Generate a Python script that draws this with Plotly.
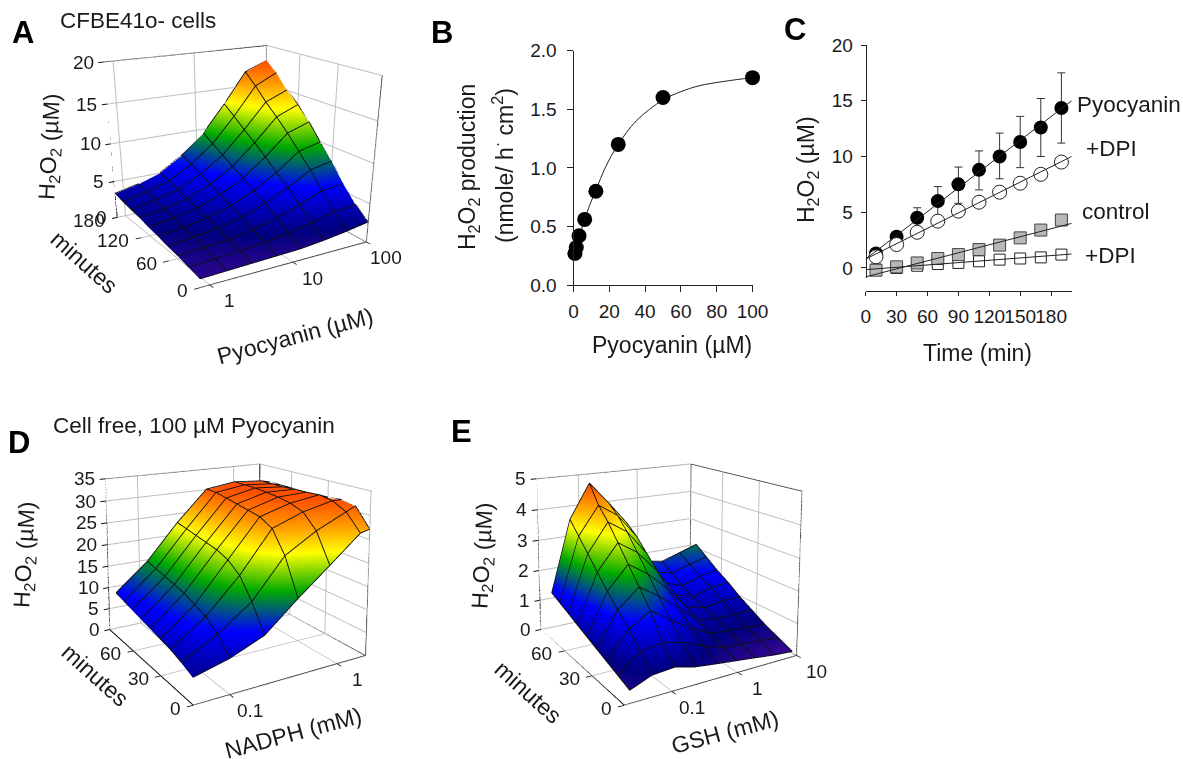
import math
import plotly.graph_objects as go

W, H = 1183, 759
FONT = "Liberation Sans, Arial, sans-serif"
INK = "#1a1a1a"

# ---------- Panel A ----------
a_pyo = [0.78, 1.56, 3.1, 6.25, 12.5, 25, 50, 100]
a_min = [0, 20, 40, 60, 80, 100, 120, 140, 160, 180]
a_z = [
    [1.0, 1.1, 1.2, 1.3, 1.4, 1.7, 2.1, 2.6],
    [1.3, 1.5, 1.7, 2.0, 2.4, 3.0, 3.7, 4.0],
    [1.6, 1.9, 2.1, 2.6, 3.4, 4.4, 5.6, 5.9],
    [1.8, 2.2, 2.6, 3.3, 4.4, 5.8, 7.5, 8.1],
    [2.1, 2.5, 3.0, 3.9, 5.2, 7.0, 9.2, 9.9],
    [2.3, 2.8, 3.4, 4.5, 6.1, 8.3, 10.9, 11.9],
    [2.6, 3.1, 3.8, 5.1, 6.9, 9.5, 12.4, 13.6],
    [2.8, 3.4, 4.2, 5.7, 7.7, 10.6, 13.8, 15.0],
    [3.0, 3.7, 4.6, 6.3, 8.6, 11.8, 15.4, 16.8],
    [3.3, 4.0, 5.0, 6.9, 9.4, 12.9, 16.8, 18.1],
]
# ---------- Panel D ----------
d_nadph = [0.05, 0.1, 0.2, 0.4, 0.8, 1.6, 2.0]
d_min = [0, 10, 20, 30, 40, 50, 60, 70, 80]
d_z = [
    [5.2, 7.0, 9.8, 15.6, 21.0, 26.5, 27.0],
    [6.2, 10.0, 15.0, 23.0, 27.0, 30.0, 31.0],
    [7.0, 12.0, 19.0, 27.5, 30.0, 31.5, 31.5],
    [7.5, 13.0, 21.0, 29.0, 31.0, 32.0, 31.2],
    [8.0, 14.0, 22.0, 29.5, 31.5, 31.8, 31.0],
    [8.5, 14.5, 22.5, 30.0, 31.8, 31.7, 31.0],
    [9.0, 15.0, 23.0, 30.5, 32.0, 31.5, 31.0],
    [9.5, 15.5, 23.5, 31.0, 32.0, 31.5, 31.0],
    [10.0, 16.0, 24.0, 31.0, 32.0, 31.5, 31.0],
]
# ---------- Panel E ----------
e_gsh = [0.026, 0.053, 0.11, 0.22, 0.46, 0.94, 1.9, 4.0, 8.3]
e_min = [0, 10, 20, 30, 40, 50, 60, 70, 80]
e_z = [
    [0.35, 0.60, 0.65, 0.50, 0.42, 0.35, 0.28, 0.20, 0.15],
    [0.48, 1.00, 1.10, 0.95, 0.70, 0.50, 0.45, 0.40, 0.35],
    [0.61, 1.40, 1.80, 1.40, 1.00, 0.70, 0.65, 0.60, 0.55],
    [0.74, 1.75, 2.30, 1.90, 1.40, 0.90, 0.80, 0.80, 0.80],
    [0.87, 2.10, 2.80, 2.40, 1.80, 1.10, 0.95, 1.05, 1.05],
    [1.00, 2.50, 3.30, 2.90, 2.20, 1.30, 1.10, 1.30, 1.35],
    [1.14, 2.90, 3.80, 3.40, 2.60, 1.50, 1.30, 1.50, 1.60],
    [1.27, 3.30, 4.20, 3.80, 3.00, 1.70, 1.55, 1.75, 1.90],
    [1.40, 3.70, 4.80, 4.10, 3.30, 1.90, 1.80, 2.00, 2.20],
]
# ---------- Panel B ----------
b_pyo = [0.78, 1.56, 3.1, 6.25, 12.5, 25, 50, 100]
b_rate = [0.27, 0.32, 0.42, 0.56, 0.80, 1.20, 1.60, 1.77]
b_fit_x = [0, 1.5, 3, 6, 9, 12.5, 18, 25, 35, 50, 60, 70, 85, 100]
b_fit_y = [0.25, 0.31, 0.40, 0.55, 0.68, 0.81, 1.01, 1.20, 1.40, 1.58, 1.65, 1.70, 1.74, 1.77]
# ---------- Panel C ----------
c_t = [10, 30, 50, 70, 90, 110, 130, 150, 170, 190]
c_pyo = [1.3, 2.8, 4.5, 6.0, 7.5, 8.8, 10.0, 11.3, 12.6, 14.35]
c_err_up = [0.1, 0.2, 0.9, 1.3, 1.55, 1.7, 2.1, 2.3, 2.6, 3.15]
c_err_dn = [0.1, 0.2, 0.9, 1.3, 1.7, 1.8, 2.0, 2.3, 2.6, 3.15]
c_pyo_dpi = [1.0, 2.1, 3.2, 4.2, 5.1, 5.9, 6.8, 7.6, 8.4, 9.5]
c_ctrl = [-0.2, 0.1, 0.45, 0.85, 1.2, 1.65, 2.05, 2.7, 3.4, 4.3]
c_ctrl_dpi = [-0.15, 0.0, 0.2, 0.35, 0.45, 0.6, 0.75, 0.85, 0.95, 1.2]
c_line_t = [0, 200]
c_line_pyo = [0.8, 15.0]
c_line_pyo_dpi = [0.8, 10.0]
c_line_ctrl = [-0.8, 4.0]
c_line_ctrl_dpi = [-0.15, 1.25]

COLORS = [
    [0.00, "#4a0a96"], [0.13, "#00007f"], [0.33, "#0000ff"], [0.43, "#005a78"],
    [0.53, "#00aa00"], [0.63, "#80d400"], [0.73, "#ffff00"], [0.87, "#ff9a00"],
    [1.00, "#ff4a00"],
]


def px(x, y):
    return x / W, 1 - y / H


fig = go.Figure()
ann = []


def label(x, y, text, size=22, angle=0, xanchor="center", bold=False):
    fx, fy = px(x, y)
    ann.append(dict(x=fx, y=fy, xref="paper", yref="paper", text=f"<b>{text}</b>" if bold else text,
                    showarrow=False, textangle=angle, xanchor=xanchor, yanchor="middle",
                    font=dict(family=FONT, size=size, color=INK if not bold else "black")))


def surface_panel(name, xs, ys, zs, xr, yr, zr, xmajor, ymajor, zmajor, box, eye, aspect, look):
    sc = dict(scene=name)
    zmax = max(max(r) for r in zs)
    fig.add_trace(go.Surface(x=xs, y=ys, z=zs, cmin=0, cmax=zmax, colorscale=COLORS, showscale=False,
                             hoverinfo="skip",
                             lighting=dict(ambient=1, diffuse=0, specular=0, roughness=1, fresnel=0), **sc))
    lift = (zr[1] - zr[0]) * 0.004
    lx, ly, lz = [], [], []
    for j, y in enumerate(ys):
        lx += xs + [None]
        ly += [y] * len(xs) + [None]
        lz += [v + lift for v in zs[j]] + [None]
    for i, x in enumerate(xs):
        lx += [x] * len(ys) + [None]
        ly += ys + [None]
        lz += [zs[j][i] + lift for j in range(len(ys))] + [None]
    fig.add_trace(go.Scatter3d(x=lx, y=ly, z=lz, mode="lines", line=dict(color="#101010", width=1.8),
                               hoverinfo="skip", showlegend=False, **sc))
    x0, x1 = 10 ** xr[0], 10 ** xr[1]
    y0, y1 = yr
    z0, z1 = zr
    corners = [[x0, y0, z0], [x1, y0, z0], None, [x0, y0, z0], [x0, y1, z0], None,
               [x0, y1, z0], [x0, y1, z1], [x1, y1, z1], [x1, y0, z1], [x1, y0, z0], None,
               [x1, y1, z0], [x1, y1, z1], None, [x0, y1, z0], [x1, y1, z0], [x1, y0, z0]]
    bx = [c[0] if c else None for c in corners]
    by = [c[1] if c else None for c in corners]
    bz = [c[2] if c else None for c in corners]
    fig.add_trace(go.Scatter3d(x=bx, y=by, z=bz, mode="lines", line=dict(color="#111111", width=2),
                               hoverinfo="skip", showlegend=False, **sc))
    mx, my, mz = [], [], []
    tl = (y1 - y0) * 0.022
    lo, hi = math.floor(xr[0]), math.ceil(xr[1])
    for d in range(lo, hi):
        for m in range(2, 11):
            v = m * 10.0 ** d
            if x0 <= v <= x1 * 1.001:
                mx += [v, v, None]
                my += [y0, y0 - tl, None]
                mz += [z0, z0, None]
    fig.add_trace(go.Scatter3d(x=mx, y=my, z=mz, mode="lines", line=dict(color="#111111", width=1.4),
                               hoverinfo="skip", showlegend=False, **sc))
    common = dict(showbackground=False, showspikes=False, zeroline=False, showline=False, showgrid=True,
                  gridcolor="#bdbdbd", gridwidth=2, title=dict(text=""), ticks="outside", ticklen=5,
                  tickcolor="#111111", tickwidth=2, showticklabels=False)
    tf = dict(family=FONT, size=19, color=INK)
    notes = []
    for v in xmajor:
        notes.append(dict(x=math.log10(v), y=y0, z=z0, text=str(v), showarrow=False, font=tf,
                          xanchor="center", xshift=20, yshift=-16))
    for v in ymajor:
        notes.append(dict(x=xr[0], y=v, z=z0, text=str(v), showarrow=False, font=tf,
                          xanchor="right", xshift=-10, yshift=-3))
    for v in zmajor:
        notes.append(dict(x=xr[0], y=y1, z=v, text=str(v), showarrow=False, font=tf,
                          xanchor="right", xshift=-8, yshift=0))
    scene = dict(
        domain=dict(x=[box[0] / W, box[2] / W], y=[1 - box[3] / H, 1 - box[1] / H]),
        camera=dict(eye=dict(x=eye[0], y=eye[1], z=eye[2]), center=dict(x=0, y=0, z=look),
                    up=dict(x=0, y=0, z=1), projection=dict(type="perspective")),
        aspectmode="manual", aspectratio=dict(x=aspect[0], y=aspect[1], z=aspect[2]),
        annotations=notes,
        xaxis=dict(type="log", range=list(xr), tickmode="array", tickvals=xmajor, **common),
        yaxis=dict(range=list(yr), tickmode="array", tickvals=ymajor, **common),
        zaxis=dict(range=list(zr), tickmode="array", tickvals=zmajor, **common),
    )
    return scene


EYE = (-1.845, -3.068, 1.107)
ASP = (1, 1, 0.86)
scene_a = surface_panel("scene", a_pyo, a_min, a_z, (math.log10(0.78), 2), (0, 180), (0, 20),
                        [1, 10, 100], [0, 60, 120, 180], [0, 5, 10, 15, 20], (0, 0, 474, 583), EYE, ASP, -0.82)
scene_d = surface_panel("scene2", d_nadph, d_min, d_z, (math.log10(0.05), math.log10(2)), (0, 90), (0, 35),
                        [0.1, 1], [0, 30, 60], [0, 5, 10, 15, 20, 25, 30, 35], (0, 176, 464, 759), EYE, ASP, 0.52)
scene_e = surface_panel("scene3", e_gsh, e_min, e_z, (math.log10(0.022), 1), (0, 90), (0, 5),
                        [0.1, 1, 10], [0, 30, 60], [0, 1, 2, 3, 4, 5], (429, 176, 897, 759), EYE, ASP, 0.52)

# Panel B
fig.add_trace(go.Scatter(x=b_fit_x, y=b_fit_y, mode="lines", line=dict(color="#222222", width=1, shape="spline"),
                         xaxis="x", yaxis="y", hoverinfo="skip", showlegend=False))
fig.add_trace(go.Scatter(x=b_pyo, y=b_rate, mode="markers", marker=dict(color="black", size=15),
                         cliponaxis=False, xaxis="x", yaxis="y", hoverinfo="skip", showlegend=False))
# Panel C
common_c = dict(xaxis="x2", yaxis="y2", hoverinfo="skip", showlegend=False, cliponaxis=False)
fig.add_trace(go.Scatter(x=c_t, y=c_pyo, mode="markers", marker=dict(color="black", size=14),
                         error_y=dict(type="data", symmetric=False, array=c_err_up, arrayminus=c_err_dn,
                                      color="#333333", thickness=1, width=4), **common_c))
fig.add_trace(go.Scatter(x=c_t, y=c_ctrl_dpi, mode="markers",
                         marker=dict(color="white", size=11, symbol="square", line=dict(color="#222222", width=1)), **common_c))
fig.add_trace(go.Scatter(x=c_t, y=c_ctrl, mode="markers",
                         marker=dict(color="#b8b8b8", size=12, symbol="square", line=dict(color="#444444", width=1)), **common_c))
fig.add_trace(go.Scatter(x=c_t, y=c_pyo_dpi, mode="markers",
                         marker=dict(color="white", size=14, line=dict(color="#222222", width=1)), **common_c))
for ln in (c_line_pyo, c_line_pyo_dpi, c_line_ctrl, c_line_ctrl_dpi):
    fig.add_trace(go.Scatter(x=c_line_t, y=ln, mode="lines", line=dict(color="#222222", width=1), **common_c))

tick2d = dict(showgrid=False, zeroline=False, showline=True, linecolor="#222222", linewidth=1, ticks="outside",
              tickcolor="#222222", tickangle=0, automargin=False,
              tickfont=dict(family=FONT, size=19, color=INK))

label(23, 33, "A", 31, bold=True)
label(442, 32, "B", 31, bold=True)
label(795, 29, "C", 31, bold=True)
label(19, 442, "D", 31, bold=True)
label(461, 431, "E", 31, bold=True)
label(58, 21, "CFBE41o- cells", 22.5, xanchor="left")
label(51, 425, "Cell free, 100 µM Pyocyanin", 22.5, xanchor="left")
label(50, 147, "H<sub>2</sub>O<sub>2</sub> (µM)", 23, -87)
label(84, 262, "minutes", 23, 42)
label(295, 336, "Pyocyanin (µM)", 23, -15)
label(25, 555, "H<sub>2</sub>O<sub>2</sub> (µM)", 23, -87)
label(95, 675, "minutes", 23, 42)
label(293, 733, "NADPH (mM)", 23, -15)
label(483, 555, "H<sub>2</sub>O<sub>2</sub> (µM)", 23, -87)
label(528, 692, "minutes", 23, 42)
label(725, 732, "GSH (mM)", 23, -15)
label(468, 167, "H<sub>2</sub>O<sub>2</sub> production", 23, -90)
label(503, 166, "(nmole/ h<sup>·</sup> cm<sup>2</sup>)", 23, -90)
label(672, 345, "Pyocyanin (µM)", 23)
label(808, 170, "H<sub>2</sub>O<sub>2</sub> (µM)", 23, -90)
label(977, 353, "Time (min)", 23)
label(1075, 105, "Pyocyanin", 22.5, xanchor="left")
label(1084, 148, "+DPI", 22.5, xanchor="left")
label(1080, 212, "control", 22.5, xanchor="left")
label(1083, 255, "+DPI", 22.5, xanchor="left")

fig.update_layout(
    template="none",
    width=W, height=H, margin=dict(l=0, r=0, t=0, b=0), paper_bgcolor="white", plot_bgcolor="white",
    showlegend=False, annotations=ann, scene=scene_a, scene2=scene_d, scene3=scene_e,
    xaxis=dict(domain=[573.5 / W, 752.5 / W], range=[0, 100], tickvals=[0, 20, 40, 60, 80, 100],
               anchor="y", ticklen=6, ticklabelstandoff=3, **tick2d),
    yaxis=dict(domain=[1 - 285 / H, 1 - 50.7 / H], range=[0, 2], tickvals=[0, 0.5, 1, 1.5, 2],
               ticktext=["0.0", "0.5", "1.0", "1.5", "2.0"], anchor="x", ticklen=6, ticklabelstandoff=6, **tick2d),
    xaxis2=dict(domain=[865.7 / W, 1071.7 / W], range=[0, 200], tickvals=[0, 30, 60, 90, 120, 150, 180],
                anchor="free", position=1 - 290.7 / H, ticklen=4, ticklabelstandoff=4, **tick2d),
    yaxis2=dict(domain=[1 - 278 / H, 1 - 45 / H], range=[-0.9, 20], tickvals=[0, 5, 10, 15, 20],
                anchor="free", position=865.7 / W, ticklen=5, ticklabelstandoff=4, **tick2d),
)
fig.write_html("out.html", config=dict(displayModeBar=False),
               post_script="document.body.style.margin='0';")
